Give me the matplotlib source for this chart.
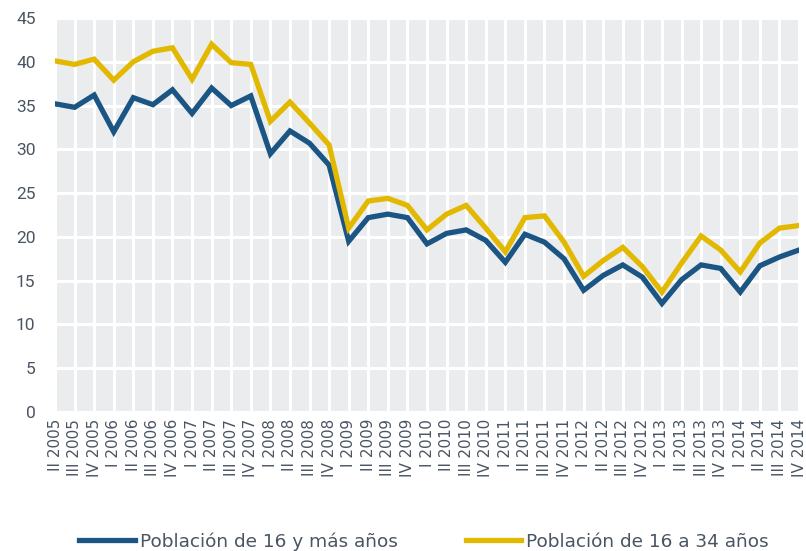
import matplotlib
matplotlib.use("Agg")
import matplotlib.pyplot as plt
import numpy as np

# Quarter labels
quarters = (["II 2005", "III 2005", "IV 2005"] +
            [f"{q} {y}" for y in range(2006, 2015) for q in ["I", "II", "III", "IV"]])

total_16_plus = [35.2, 34.8, 36.2, 32.0, 35.9, 35.1, 36.8, 34.1, 37.0, 35.0, 36.1,
                 29.5, 32.1, 30.7, 28.2, 19.5, 22.2, 22.6, 22.2, 19.2, 20.4, 20.8,
                 19.6, 17.1, 20.3, 19.4, 17.5, 13.9, 15.6, 16.8, 15.4, 12.4, 15.1,
                 16.8, 16.4, 13.7, 16.7, 17.7, 18.5]
young_16_34 = [40.1, 39.7, 40.3, 37.9, 40.0, 41.2, 41.6, 38.0, 42.0, 39.9, 39.7,
               33.2, 35.4, 33.0, 30.5, 21.0, 24.1, 24.4, 23.6, 20.8, 22.6, 23.6,
               21.0, 18.3, 22.2, 22.4, 19.4, 15.5, 17.3, 18.8, 16.6, 13.7, 17.0,
               20.1, 18.5, 16.0, 19.3, 21.0, 21.3]

BLUE = "#1B5584"
YELLOW = "#E2B900"
TEXT = "#4A5563"

fig = plt.figure(figsize=(8.06, 5.51), dpi=100)
ax = fig.add_axes([55 / 806, 1 - 412 / 551, (799 - 55) / 806, (412 - 18) / 551])

x = np.arange(len(quarters))
ax.set_facecolor("#EBECEE")
ax.plot(x, total_16_plus, color=BLUE, lw=3.8, label="Población de 16 y más años",
        solid_joinstyle="miter", zorder=3)
ax.plot(x, young_16_34, color=YELLOW, lw=3.8, label="Población de 16 a 34 años",
        solid_joinstyle="miter", zorder=3)

ax.set_xlim(0, len(quarters) - 1)
ax.set_ylim(0, 45)
ax.set_yticks(range(0, 46, 5))
ax.set_xticks(x)
ax.set_xticklabels(quarters, rotation=90, fontsize=11, color=TEXT)
ax.tick_params(axis="y", labelsize=12.5, labelcolor=TEXT, length=0, pad=14)
ax.tick_params(axis="x", length=0, pad=5)
for lbl in ax.get_yticklabels():
    lbl.set_family("Roboto")

ax.grid(True, color="white", lw=2.2)
ax.set_axisbelow(True)
for s in ax.spines.values():
    s.set_visible(False)

fig.legend(loc="lower center", bbox_to_anchor=(0.526, -0.03), ncol=2, frameon=False,
           fontsize=13.3, handlelength=3.0, columnspacing=3.7, handletextpad=0.25,
           labelcolor=TEXT)

fig.savefig("out.png", dpi=100, facecolor="white")
